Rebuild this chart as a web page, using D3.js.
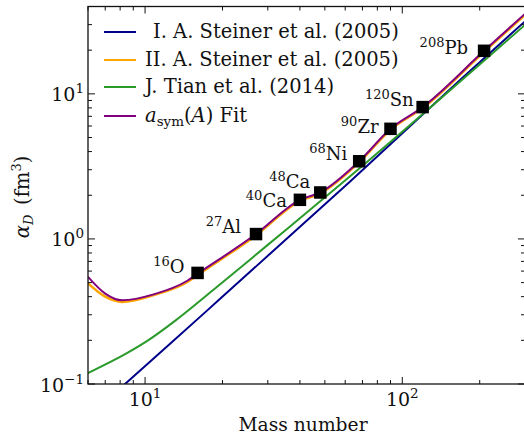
<!DOCTYPE html>
<html>
<head>
<meta charset="utf-8">
<script src="https://cdn.jsdelivr.net/npm/d3@7"></script>
<style>
  body { margin: 0; background: #fff; }
  svg { display: block; }
  text { font-family: "DejaVu Serif", serif; fill: #111; }
</style>
</head>
<body>
<div id="chart"></div>
<script>
// values (A = mass number, alpha_D in fm^3)
var steinerI_A = [6, 8.36, 17.5, 62.7, 169, 300];
var steinerI_a = [0.0587, 0.1, 0.323, 2.49, 12.6, 31.6];

var steinerII_A = [6, 7, 8.15, 10.8, 14.6, 16, 27, 40, 48, 68, 90, 120, 208, 300];
var steinerII_a = [0.494, 0.4, 0.368, 0.41, 0.505, 0.565, 1.06, 1.83, 2.06, 3.38, 5.66, 7.98, 19.5, 35.1];

var tian_A = [6, 8.5, 10.2, 13, 18.4, 30, 62.7, 211, 300];
var tian_a = [0.119, 0.163, 0.198, 0.27, 0.444, 0.91, 2.70, 17.3, 29.9];

var fit_A = [6, 7, 8.15, 10.8, 14.6, 16, 27, 40, 48, 68, 90, 120, 208, 300];
var fit_a = [0.548, 0.42, 0.378, 0.415, 0.515, 0.575, 1.08, 1.86, 2.09, 3.43, 5.74, 8.10, 19.8, 35.6];

var nuclei = ['O', 'Al', 'Ca', 'Ca', 'Ni', 'Zr', 'Sn', 'Pb'];
var nucleiMass = [16, 27, 40, 48, 68, 90, 120, 208];
var nucleiAlpha = [0.583, 1.08, 1.86, 2.09, 3.43, 5.74, 8.10, 19.8];

var xTicks = [10, 100];
var yTicks = [0.1, 1, 10];

// label nudges (px) from the marker: [dx of text end, dy of baseline]
var labelNudge = [[-13, 0], [-15, -1], [-13, 7], [-10, -4], [-12, -1], [-12, 4], [-9, -1], [-16, 3]];

var W = 524, H = 434;
var padL = 88, padR = 525, padT = 6.5, padB = 384;

var svg = d3.select('#chart').append('svg').attr('width', W).attr('height', H);

var x = d3.scaleLog().domain([6, 300]).range([padL, padR]);
var y = d3.scaleLog().domain([0.1, 40]).range([padB, padT]);

svg.append('clipPath').attr('id', 'plotclip').append('rect')
  .attr('x', padL).attr('y', padT).attr('width', padR - padL).attr('height', padB - padT);

var plot = svg.append('g').attr('clip-path', 'url(#plotclip)');

function pairs(A, a) { return A.map(function(v, i) { return [v, a[i]]; }); }

var line = d3.line()
  .x(function(d) { return x(d[0]); })
  .y(function(d) { return y(d[1]); })
  .curve(d3.curveMonotoneX);

var series = [
  {name: 'I', data: pairs(steinerI_A, steinerI_a), color: '#00008b', w: 2},
  {name: 'II', data: pairs(steinerII_A, steinerII_a), color: '#ffa500', w: 2.6},
  {name: 'T', data: pairs(tian_A, tian_a), color: '#2a9a2a', w: 2},
  {name: 'F', data: pairs(fit_A, fit_a), color: '#800080', w: 2}
];

plot.selectAll('path.curve').data(series).enter().append('path')
  .attr('class', 'curve')
  .attr('fill', 'none')
  .attr('stroke', function(d) { return d.color; })
  .attr('stroke-width', function(d) { return d.w; })
  .attr('d', function(d) { return line(d.data); });

// markers
var ms = 12.5;
plot.selectAll('rect.nuc').data(nucleiMass).enter().append('rect')
  .attr('class', 'nuc')
  .attr('x', function(d) { return x(d) - ms / 2; })
  .attr('y', function(d, i) { return y(nucleiAlpha[i]) - ms / 2; })
  .attr('width', ms).attr('height', ms)
  .attr('fill', '#000');

// nucleus labels
var labs = svg.selectAll('text.nuc').data(nucleiMass).enter().append('text')
  .attr('class', 'nuc')
  .attr('text-anchor', 'end')
  .attr('font-size', 18)
  .attr('x', function(d, i) { return x(d) + labelNudge[i][0]; })
  .attr('y', function(d, i) { return y(nucleiAlpha[i]) + labelNudge[i][1]; });
labs.append('tspan').attr('font-size', 13).attr('dy', -7).text(function(d) { return d; });
labs.append('tspan').attr('dy', 7).text(function(d, i) { return nuclei[i]; });

// axes frame
var frame = svg.append('g');
frame.append('rect').attr('x', padL).attr('y', padT).attr('width', padR - padL).attr('height', padB - padT)
  .attr('fill', 'none').attr('stroke', '#111').attr('stroke-width', 1.3);

function minors(lo, hi) {
  var out = [];
  for (var e = -2; e <= 3; e++) {
    for (var k = 2; k <= 9; k++) {
      var v = k * Math.pow(10, e);
      if (v >= lo && v <= hi) out.push(v);
    }
  }
  return out;
}
var xMin = minors(6, 300), yMin = minors(0.1, 40);

function ticks(vals, len, horizontal) {
  vals.forEach(function(v) {
    if (horizontal) {
      var px = x(v);
      frame.append('line').attr('x1', px).attr('x2', px).attr('y1', padB).attr('y2', padB - len).attr('stroke', '#111');
      frame.append('line').attr('x1', px).attr('x2', px).attr('y1', padT).attr('y2', padT + len).attr('stroke', '#111');
    } else {
      var py = y(v);
      frame.append('line').attr('x1', padL).attr('x2', padL + len).attr('y1', py).attr('y2', py).attr('stroke', '#111');
      frame.append('line').attr('x1', padR).attr('x2', padR - len).attr('y1', py).attr('y2', py).attr('stroke', '#111');
    }
  });
}
ticks(xTicks, 7, true);
ticks(xMin, 4, true);
ticks(yTicks, 7, false);
ticks(yMin, 4, false);

function expOf(v) { return Math.round(Math.log10(v)); }

// tick labels
xTicks.forEach(function(v) {
  var t = svg.append('text').attr('x', x(v)).attr('y', 406).attr('text-anchor', 'middle').attr('font-size', 19);
  t.append('tspan').text('10');
  t.append('tspan').attr('font-size', 13.5).attr('dy', -8).text(expOf(v));
});
yTicks.forEach(function(v) {
  var t = svg.append('text').attr('x', 84).attr('y', y(v) + 7.5).attr('text-anchor', 'end').attr('font-size', 19);
  t.append('tspan').text('10');
  var e = expOf(v);
  t.append('tspan').attr('font-size', 13.5).attr('dy', -8).text(e < 0 ? '\u2212' + Math.abs(e) : e);
});

// axis titles
svg.append('text').attr('x', 303).attr('y', 431).attr('text-anchor', 'middle').attr('font-size', 18.7).text('Mass number');

var yl = svg.append('text').attr('transform', 'translate(29,197) rotate(-90)').attr('text-anchor', 'middle').attr('font-size', 19.5);
yl.append('tspan').attr('font-style', 'italic').text('\u03b1');
yl.append('tspan').attr('font-style', 'italic').attr('font-size', 13).attr('dy', 4).text('D');
yl.append('tspan').attr('dy', -4).text('\u2002(fm');
yl.append('tspan').attr('font-size', 13).attr('dy', -8).text('3');
yl.append('tspan').attr('dy', 8).text(')');

// legend
var legendRows = [
  {color: '#00008b', y: 32},
  {color: '#ffa500', y: 60},
  {color: '#2a9a2a', y: 87},
  {color: '#800080', y: 116}
];
var lg = svg.append('g');
lg.selectAll('line').data(legendRows).enter().append('line')
  .attr('x1', 104).attr('x2', 136)
  .attr('y1', function(d) { return d.y; }).attr('y2', function(d) { return d.y; })
  .attr('stroke', function(d) { return d.color; }).attr('stroke-width', 2);

var lfs = 19.5;
lg.append('text').attr('x', 153).attr('y', 38).attr('font-size', lfs).text('I. A. Steiner et al. (2005)');
lg.append('text').attr('x', 145).attr('y', 66).attr('font-size', lfs).text('II. A. Steiner et al. (2005)');
lg.append('text').attr('x', 145).attr('y', 93).attr('font-size', lfs).text('J. Tian et al. (2014)');
var ft = lg.append('text').attr('x', 145).attr('y', 122).attr('font-size', lfs);
ft.append('tspan').attr('font-style', 'italic').text('a');
ft.append('tspan').attr('font-size', 13.5).attr('dy', 4).text('sym');
ft.append('tspan').attr('dy', -4).text('(');
ft.append('tspan').attr('font-style', 'italic').text('A');
ft.append('tspan').text(') Fit');
</script>
</body>
</html>
